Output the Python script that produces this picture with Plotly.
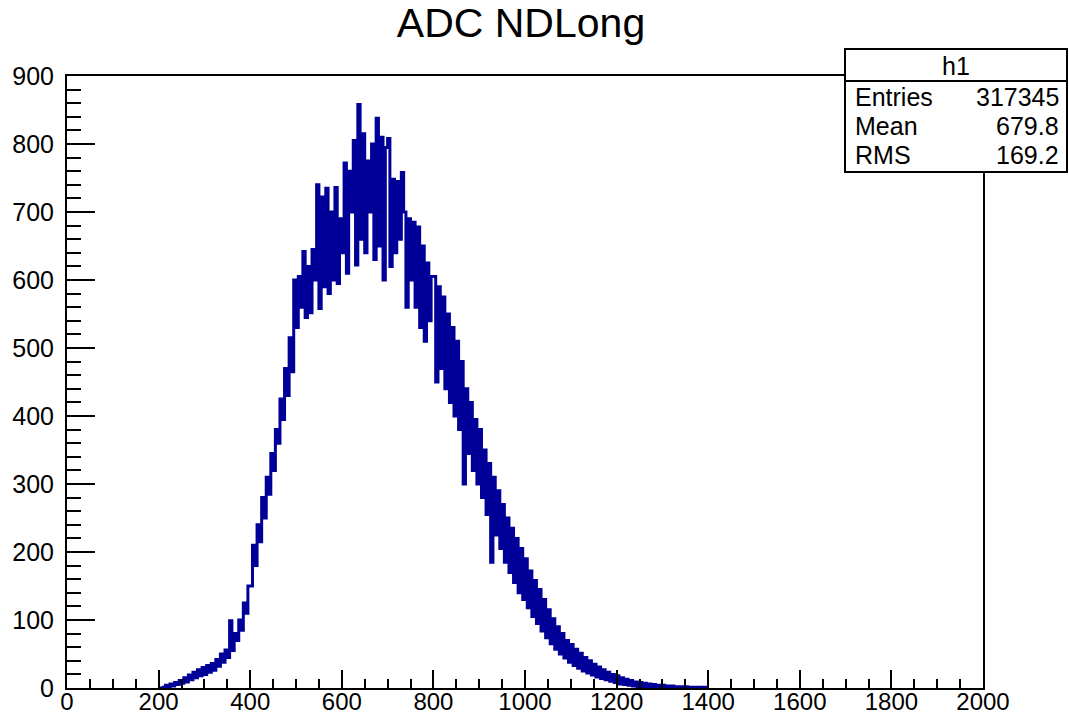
import numpy as np
import plotly.graph_objects as go

# ---- data (counts per 5-unit ADC bin) ----
bin_start = 200
bin_width = 5
counts = [
    # 200-295
    0, 0, 1, 4, 2, 6, 3, 8, 5, 11, 7, 15, 9, 19, 12, 23, 15, 27, 18, 30,
    # 300-395
    20, 33, 23, 36, 26, 42, 32, 50, 38, 56, 45, 99, 55, 80, 70, 100, 85, 125, 110, 150,
    # 400-495
    150, 210, 180, 240, 215, 280, 250, 310, 285, 345, 320, 380, 360, 425, 395, 470, 430, 515, 465, 600,
    # 500-595
    530, 605, 560, 642, 545, 620, 552, 645, 600, 740, 558, 722, 590, 735, 580, 700, 600, 736, 595, 690,
    # 600-695
    640, 772, 610, 760, 700, 805, 622, 858, 660, 815, 640, 775, 700, 800, 630, 838, 650, 810, 600, 795,
    # 700-795
    808, 620, 748, 640, 745, 660, 758, 700, 560, 690, 600, 685, 560, 678, 530, 650, 510, 625, 540, 605,
    # 800-895
    605, 450, 590, 470, 575, 440, 550, 420, 530, 400, 510, 380, 480, 300, 440, 345, 420, 320, 395, 300,
    # 900-995
    380, 280, 350, 255, 330, 185, 310, 225, 290, 205, 270, 185, 250, 170, 235, 155, 220, 140, 205, 130,
    # 1000-1095
    190, 118, 172, 105, 158, 95, 145, 84, 130, 74, 115, 65, 102, 57, 90, 50, 80, 44, 70, 38,
    # 1100-1195
    64, 33, 57, 29, 51, 25, 45, 22, 40, 19, 35, 16, 31, 14, 27, 12, 23, 10, 20, 8,
    # 1200-1295
    18, 6, 15, 5, 13, 4, 11, 3, 9, 2, 8, 2, 7, 1, 6, 1, 5, 0, 4, 0,
    # 1300-1395
    4, 0, 3, 0, 3, 0, 2, 0, 2, 0, 2, 0, 1, 0, 1, 0, 1, 0, 1, 0,
]

title_text = "ADC NDLong"
stats_name = "h1"
stats_labels = ["Entries", "Mean", "RMS"]
stats_values = ["317345", "679.8", "169.2"]

x_range = [0, 2000]
y_range = [0, 900]

# ---- build step outline ----
edges = bin_start + bin_width * np.arange(len(counts) + 1)
yvals = list(counts) + [counts[-1]]

W, H = 1069, 717
L, R, T, B = 67, 86, 76, 29
pw, ph = W - L - R, H - T - B

def px_x(p):
    return (p - L) / pw

def px_y(p):
    return (H - B - p) / ph

fig = go.Figure()
fig.add_trace(go.Scatter(
    x=edges, y=yvals, mode="lines", line_shape="hv",
    line=dict(color="#000099", width=3), showlegend=False, hoverinfo="skip",
))

font_family = "Liberation Sans, Arial, Helvetica, sans-serif"

fig.update_layout(
    width=W, height=H, autosize=False,
    margin=dict(l=L, r=R, t=T, b=B, pad=0, autoexpand=False),
    paper_bgcolor="white", plot_bgcolor="white",
    font=dict(family=font_family, color="black"),
    title=dict(text=title_text, x=521 / W, xanchor="center", xref="container",
               y=1 - 23 / H, yanchor="middle", yref="container",
               font=dict(size=41, family=font_family, color="black")),
    showlegend=False,
)

fig.update_xaxes(
    range=x_range, showgrid=False, zeroline=False, automargin=False,
    showline=True, linecolor="black", linewidth=2, mirror=True,
    ticks="inside", ticklen=18, tickwidth=2, tickcolor="black",
    tick0=0, dtick=200, ticklabelstandoff=-9,
    tickfont=dict(size=24, family=font_family, color="black"),
    minor=dict(ticks="inside", ticklen=9, tickwidth=2, tickcolor="black", dtick=50, showgrid=False),
)
fig.update_yaxes(
    range=y_range, showgrid=False, zeroline=False, automargin=False,
    showline=True, linecolor="black", linewidth=2, mirror=True,
    ticks="inside", ticklen=28, tickwidth=2, tickcolor="black",
    tick0=0, dtick=100, ticklabelstandoff=6,
    tickfont=dict(size=25, family=font_family, color="black"),
    minor=dict(ticks="inside", ticklen=14, tickwidth=2, tickcolor="black", dtick=20, showgrid=False),
)

# ---- stats box ----
bx0, bx1, by0, by1, bsep = 845, 1067, 49, 172, 81
fig.add_shape(type="rect", xref="paper", yref="paper",
              x0=px_x(bx0), x1=px_x(bx1), y0=px_y(by1), y1=px_y(by0),
              fillcolor="white", line=dict(color="black", width=2), layer="above")
fig.add_shape(type="line", xref="paper", yref="paper",
              x0=px_x(bx0), x1=px_x(bx1), y0=px_y(bsep), y1=px_y(bsep),
              line=dict(color="black", width=2), layer="above")

fig.add_annotation(text=stats_name, xref="paper", yref="paper",
                   x=px_x(956), y=px_y(66), xanchor="center", yanchor="middle",
                   showarrow=False, font=dict(size=25, family=font_family, color="black"))
row_y = [97, 126, 155]
for lab, val, yy in zip(stats_labels, stats_values, row_y):
    fig.add_annotation(text=lab, xref="paper", yref="paper",
                       x=px_x(853), y=px_y(yy), xanchor="left", yanchor="middle",
                       showarrow=False, font=dict(size=25, family=font_family, color="black"))
    fig.add_annotation(text=val, xref="paper", yref="paper",
                       x=px_x(1061), y=px_y(yy), xanchor="right", yanchor="middle",
                       showarrow=False, font=dict(size=25, family=font_family, color="black"))

fig.write_html("out.html")
